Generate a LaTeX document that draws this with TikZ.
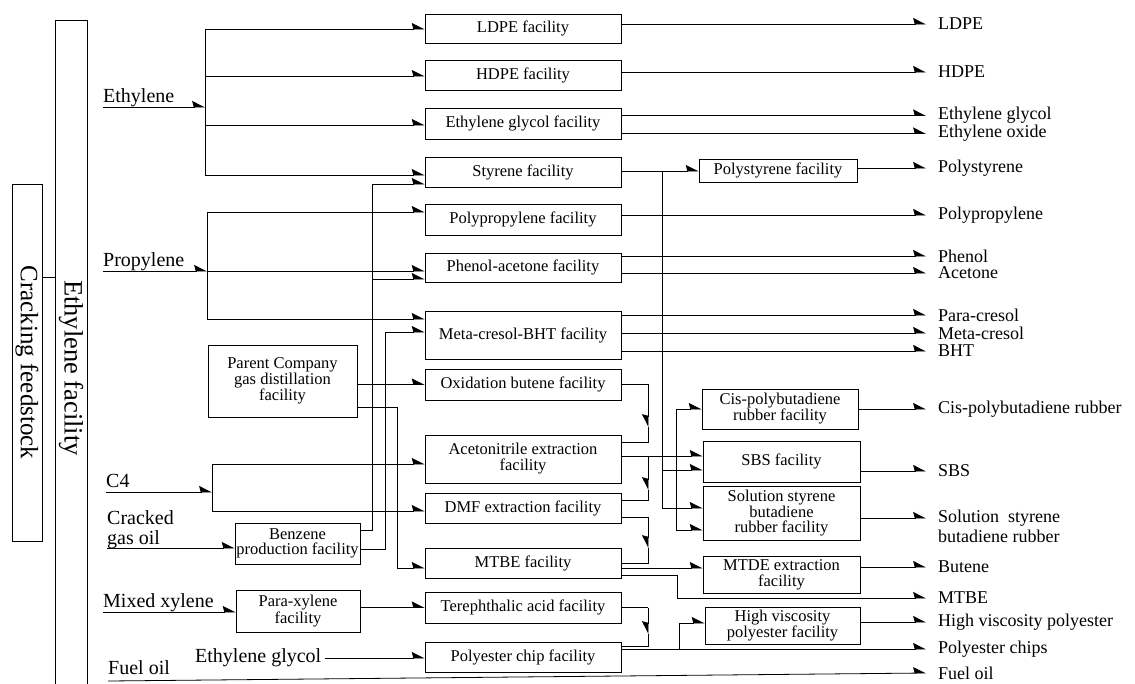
\documentclass[tikz,border=0pt]{standalone}
\usepackage{fontspec}
\setmainfont{Liberation Serif}
\usetikzlibrary{arrows.meta}
\newcommand\fntBox{\fontsize{16.5}{16}\selectfont}
\newcommand\fntOut{\fontsize{18}{18}\selectfont}
\newcommand\fntIn{\fontsize{20}{21}\selectfont}

\begin{document}
\begin{tikzpicture}[x=1pt,y=-1pt,
  ln/.style={line width=0.8pt},
  arr/.style={ln,-{Stealth[harpoon,length=12pt,width=12pt,inset=1.5pt]}},
  arrd/.style={ln,-{Stealth[harpoon,swap,length=12pt,width=12pt,inset=1.5pt]}},
  fac/.style={draw,line width=0.8pt,align=center,font=\fntBox,inner sep=1pt},
  cbox/.style={fac,minimum width=196pt},
  prod/.style={anchor=west,font=\fntOut,inner xsep=12pt,inner ysep=0pt},
  inp/.style={anchor=base west,font=\fntIn,inner sep=0pt},
  sidebox/.style={draw,line width=0.8pt,rotate=-90,inner sep=0pt},
]
\useasboundingbox (0,0) rectangle (1135,683);
\clip (0,0) rectangle (1135,683);
\fill[white] (0,0) rectangle (1135,683);

% ---- plant columns on the left
\node[sidebox,minimum width=357pt,minimum height=30pt,font=\fontsize{25}{25}\selectfont] (cf) at (27,362.5) {Cracking feedstock};
\node[sidebox,minimum width=696pt,minimum height=32pt,font=\fontsize{26.5}{26.5}\selectfont] (ef) at (71,368) {Ethylene facility};
\coordinate (lnk) at (48,277);
\draw[ln] (cf.north |- lnk) -- (ef.south |- lnk);

% ---- main facility column
\node[cbox,minimum height=29pt] (ldpe)  at (523,28.5)  {LDPE facility};
\node[cbox,minimum height=30pt] (hdpe)  at (523,75)    {HDPE facility};
\node[cbox,minimum height=31pt] (egf)   at (523,123.5) {Ethylene glycol facility};
\node[cbox,minimum height=30pt] (sty)   at (523,172)   {Styrene facility};
\node[cbox,minimum height=31pt] (ppf)   at (523,219.5) {Polypropylene facility};
\node[cbox,minimum height=29pt] (paf)   at (523,267.5) {Phenol-acetone facility};
\node[cbox,minimum height=48pt] (mcf)   at (523,335)   {Meta-cresol-BHT facility};
\node[cbox,minimum height=31pt] (obf)   at (523,384.5) {Oxidation butene facility};
\node[cbox,minimum height=48pt] (anf)   at (523,459)   {Acetonitrile extraction\\facility};
\node[cbox,minimum height=30pt] (dmf)   at (523,508)   {DMF extraction facility};
\node[cbox,minimum height=30pt] (mtbef) at (523,563)   {MTBE facility};
\node[cbox,minimum height=31pt] (tpaf)  at (523,607.5) {Terephthalic acid facility};
\node[cbox,minimum height=30pt] (pcf)   at (523,657)   {Polyester chip facility};

% ---- downstream facilities
\node[fac,minimum width=158pt,minimum height=23pt] (psf)   at (778,170.5) {Polystyrene facility};
\node[fac,minimum width=156pt,minimum height=40pt] (cisf)  at (780,409)   {Cis-polybutadiene\\rubber facility};
\node[fac,minimum width=157pt,minimum height=41pt] (sbsf)  at (781.5,461.5) {SBS facility};
\node[fac,minimum width=157pt,minimum height=54pt,font=\fontsize{16.5}{15}\selectfont] (ssbrf) at (781.5,513) {Solution styrene\\butadiene\\rubber facility};
\node[fac,minimum width=157pt,minimum height=37pt] (mtdef) at (781.5,574.5) {MTDE extraction\\facility};
\node[fac,minimum width=155pt,minimum height=37pt] (hvf)   at (782.5,625.5) {High viscosity\\polyester facility};

% ---- side feed facilities
\node[fac,minimum width=149pt,minimum height=72pt] (pcd) at (282.5,381) {Parent Company\\gas distillation\\facility};
\node[fac,minimum width=125pt,minimum height=41pt,font=\fontsize{16.5}{14.5}\selectfont] (bzf) at (297.5,543.5) {Benzene\\production facility};
\node[fac,minimum width=124pt,minimum height=42pt,font=\fontsize{16.5}{15}\selectfont] (pxf) at (298,611) {Para-xylene\\facility};

% ---- feed names
\node[inp] (lEth)  at (103,102) {Ethylene};
\node[inp] (lProp) at (103,266) {Propylene};
\node[inp] (lC4)   at (106,487) {C4};
\node[inp] (lCr)   at (107,524) {Cracked};
\node[inp] (lGo)   at (107,544) {gas oil};
\node[inp] (lMx)   at (103,607) {Mixed xylene};
\node[inp,anchor=west,inner xsep=4pt] (lEgl) at (191,658) {Ethylene glycol};
\node[inp] (lFuel) at (108,674) {Fuel oil};

% ---- product names
\node[prod] (oLdpe)  at (926,24)  {LDPE};
\node[prod] (oHdpe)  at (926,72)  {HDPE};
\node[prod] (oEg)    at (926,115.5) {Ethylene glycol};
\node[prod] (oEo)    at (926,133.5) {Ethylene oxide};
\node[prod] (oPs)    at (926,168) {Polystyrene};
\node[prod] (oPp)    at (926,215) {Polypropylene};
\node[prod] (oPh)    at (926,256) {Phenol};
\node[prod] (oAc)    at (926,273) {Acetone};
\node[prod] (oPcr)   at (926,315) {Para-cresol};
\node[prod] (oMcr)   at (926,333) {Meta-cresol};
\node[prod] (oBht)   at (926,351) {BHT};
\node[prod] (oCis)   at (926,409) {Cis-polybutadiene rubber};
\node[prod] (oSbs)   at (926,471) {SBS};
\node[prod] (oSs)    at (926,518) {Solution\ \ styrene};
\node[prod] (oSs2)   at (926,536) {butadiene rubber};
\node[prod] (oBut)   at (926,567) {Butene};
\node[prod] (oMtbe)  at (926,598) {MTBE};
\node[prod] (oHv)    at (926,622) {High viscosity polyester};
\node[prod] (oChips) at (926,649) {Polyester chips};
\node[prod] (oFuel)  at (926,673) {Fuel oil};

% ---- ethylene distribution
\coordinate (eS) at (103,107);
\coordinate (eB) at (205,107);
\coordinate (e1) at (205,29);
\coordinate (e2) at (205,76);
\coordinate (e3) at (205,125);
\coordinate (e4) at (205,175);
\draw[arr] (eS) -- (eB);
\draw[ln] (e1) -- (e4);
\draw[arr] (e1) -- (ldpe.west |- e1);
\draw[arr] (e2) -- (hdpe.west |- e2);
\draw[arr] (e3) -- (egf.west |- e3);
\draw[arr] (e4) -- (sty.west |- e4);

% ---- propylene distribution
\coordinate (pS) at (103,271);
\coordinate (pB) at (207,271);
\coordinate (p1) at (207,212);
\coordinate (p3) at (207,319);
\draw[arr] (pS) -- (pB);
\draw[arr] (pB) -- (paf.west |- pB);
\draw[ln] (p1) -- (p3);
\draw[arr] (p1) -- (ppf.west |- p1);
\draw[arr] (p3) -- (mcf.west |- p3);

% ---- benzene feeds
\coordinate (bA) at (372,530);
\coordinate (bAt) at (372,184);
\coordinate (bAp) at (372,279);
\coordinate (bB) at (385,549);
\coordinate (bBt) at (385,332);
\draw[arr] (bzf.east |- bA) -- (bA) -- (bAt) -- (sty.west |- bAt);
\draw[arr] (bAp) -- (paf.west |- bAp);
\draw[arr] (bzf.east |- bB) -- (bB) -- (bBt) -- (mcf.west |- bBt);

% ---- gas distillation feeds
\coordinate (gA) at (397,407);
\coordinate (gB) at (397,568);
\draw[arr] (pcd.east |- obf) -- (obf.west);
\draw[arr] (pcd.east |- gA) -- (gA) -- (gB) -- (mtbef.west |- gB);

% ---- C4 distribution
\coordinate (cS) at (106,492);
\coordinate (cB) at (212,492);
\coordinate (c1) at (212,464);
\coordinate (c2) at (212,511);
\draw[arr] (cS) -- (cB);
\draw[ln] (c1) -- (c2);
\draw[arr] (c1) -- (anf.west |- c1);
\draw[arr] (c2) -- (dmf.west |- c2);

% ---- cracked gas oil, xylene, glycol, fuel oil
\coordinate (gS) at (107,548);
\draw[arr] (gS) -- (bzf.west |- gS);
\coordinate (xS) at (103,612);
\draw[arr] (xS) -- (pxf.west |- xS);
\draw[arr] (pxf.east |- tpaf) -- (tpaf.west);
\draw[arr] (lEgl.east) -- (pcf.west |- lEgl.east);
\coordinate (fS) at (108,681);
\draw[arr] (fS) -- (oFuel.west);

% ---- C4 raffinate chain on the right of the column
\coordinate (oR) at (648,384);
\coordinate (oM) at (648,427);
\coordinate (oD) at (648,442);
\draw[ln] (obf.east |- oR) -- (oR);
\draw[arrd] (oR) -- (oM);
\draw[ln] (oM) -- (oD) -- (anf.east |- oD);

\coordinate (aJ) at (648,456);
\coordinate (aM) at (648,490);
\coordinate (aD) at (648,500);
\draw[arrd] (aJ) -- (aM);
\draw[ln] (aM) -- (aD) -- (dmf.east |- aD);

\coordinate (dR) at (648,517);
\coordinate (dM) at (648,548);
\coordinate (dD) at (648,563);
\draw[ln] (dmf.east |- dR) -- (dR);
\draw[arrd] (dR) -- (dM);
\draw[ln] (dM) -- (dD) -- (mtbef.east |- dD);

\coordinate (tR) at (648,607.5);
\coordinate (tM) at (648,634);
\coordinate (tD) at (648,646);
\draw[ln] (tpaf.east) -- (tR);
\draw[arrd] (tR) -- (tM);
\draw[ln] (tM) -- (tD) -- (pcf.east |- tD);

% ---- styrene to downstream
\coordinate (sJ) at (662,171);
\coordinate (s1) at (662,470);
\coordinate (s2) at (662,508);
\draw[arr] (sty.east |- sJ) -- (psf.west |- sJ);
\draw[ln] (sJ) -- (s2);
\draw[arr] (s1) -- (sbsf.west |- s1);
\draw[arr] (s2) -- (ssbrf.west |- s2);

% ---- butadiene to rubbers
\coordinate (bdT) at (676,409);
\coordinate (bdE) at (676,530);
\draw[arr] (anf.east |- aJ) -- (sbsf.west |- aJ);
\draw[ln] (bdT) -- (bdE);
\draw[arr] (bdT) -- (cisf.west |- bdT);
\draw[arr] (bdE) -- (ssbrf.west |- bdE);

% ---- MTBE products
\coordinate (mO) at (690,568);
\coordinate (mP1) at (677,575);
\coordinate (mP2) at (677,598);
\draw[arr] (mtbef.east |- mO) -- (mtdef.west |- mO);
\draw[arr] (mtbef.east |- mP1) -- (mP1) -- (mP2) -- (oMtbe.west);

% ---- polyester chips and high viscosity polyester
\coordinate (cJ) at (679,649);
\coordinate (hJ) at (679,623);
\draw[arr] (pcf.east |- cJ) -- (oChips.west);
\draw[arr] (cJ) -- (hJ) -- (hvf.west |- hJ);

% ---- product lines
\draw[arr] (ldpe.east |- oLdpe) -- (oLdpe.west);
\draw[arr] (hdpe.east |- oHdpe) -- (oHdpe.west);
\draw[arr] (egf.east |- oEg) -- (oEg.west);
\draw[arr] (egf.east |- oEo) -- (oEo.west);
\draw[arr] (psf.east |- oPs) -- (oPs.west);
\draw[arr] (ppf.east |- oPp) -- (oPp.west);
\draw[arr] (paf.east |- oPh) -- (oPh.west);
\draw[arr] (paf.east |- oAc) -- (oAc.west);
\draw[arr] (mcf.east |- oPcr) -- (oPcr.west);
\draw[arr] (mcf.east |- oMcr) -- (oMcr.west);
\draw[arr] (mcf.east |- oBht) -- (oBht.west);
\draw[arr] (cisf.east |- oCis) -- (oCis.west);
\draw[arr] (sbsf.east |- oSbs) -- (oSbs.west);
\draw[arr] (ssbrf.east |- oSs) -- (oSs.west);
\draw[arr] (mtdef.east |- oBut) -- (oBut.west);
\draw[arr] (hvf.east |- oHv) -- (oHv.west);
\end{tikzpicture}
\end{document}
